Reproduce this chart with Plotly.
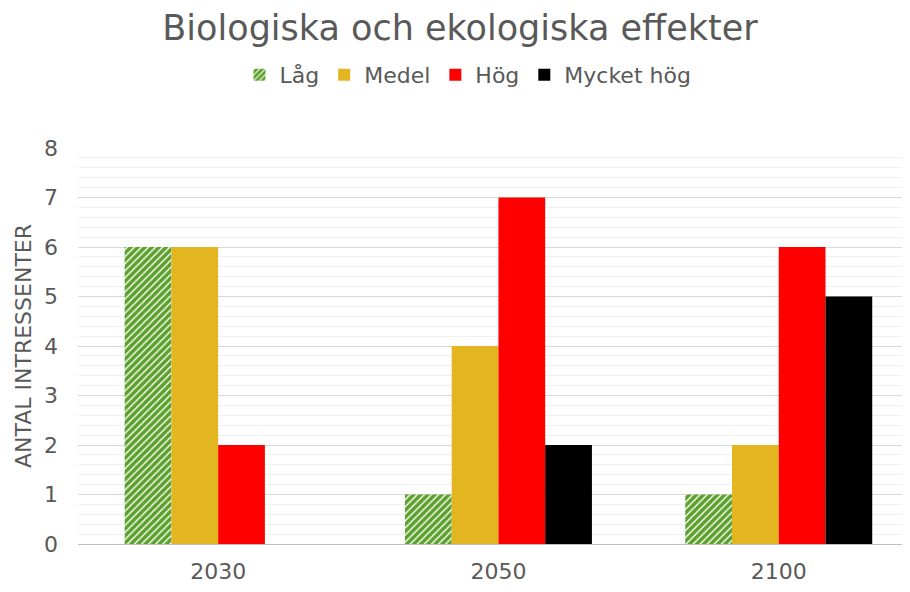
import plotly.graph_objects as go

categories = ["2030", "2050", "2100"]
series_names = ["Låg", "Medel", "Hög", "Mycket hög"]
lag = [6, 1, 1]
medel = [6, 4, 2]
hog = [2, 7, 6]
mycket_hog = [0, 2, 5]
y_ticks = [0, 1, 2, 3, 4, 5, 6, 7, 8]

colors = ["#5DA12D", "#E3B521", "#FF0000", "#000000"]
values = [lag, medel, hog, mycket_hog]

FONT = "DejaVu Sans"
GRAY = "#595959"
OFF = 8  # page body offset

fig = go.Figure()
for i, (name, vals) in enumerate(zip(series_names, values)):
    marker = dict(color=colors[i], line=dict(width=0))
    if i == 0:
        marker = dict(color=colors[i],
                      pattern=dict(shape="/", fgcolor="white", bgcolor=colors[i],
                                   size=5, solidity=0.28, fillmode="replace"),
                      line=dict(width=0))
    fig.add_trace(go.Bar(x=categories, y=vals, name=name, marker=marker))

H = 576
W = 894
fig.update_layout(
    width=W, height=H,
    barmode="group", bargap=0.333, bargroupgap=0,
    plot_bgcolor="white", paper_bgcolor="white",
    margin=dict(l=78 - OFF, r=0, t=148 - OFF, b=H - (548 - OFF)),
    title=dict(text="Biologiska och ekologiska effekter", x=(460 - OFF) / W, xanchor="center",
               xref="container",
               y=1 - (28 - OFF) / H, yanchor="middle",
               font=dict(family=FONT, size=35, color=GRAY)),
    legend=dict(orientation="h", x=(468 - OFF) / W, xanchor="center", xref="container",
                y=1 - (75 - OFF) / H,
                yanchor="middle", yref="container",
                font=dict(family=FONT, size=22, color=GRAY),
                traceorder="normal", itemsizing="constant"),
    font=dict(family=FONT, color=GRAY),
)
fig.update_xaxes(range=[-0.5, -0.5 + (W - 70) / 280.3], showgrid=False, showline=True,
                 linecolor="#bfbfbf", linewidth=1, ticks="",
                 ticklabelstandoff=8,
                 tickfont=dict(family=FONT, size=22, color=GRAY))
fig.update_yaxes(range=[0, 8], tickvals=y_ticks, showgrid=True,
                 gridcolor="#d9d9d9", gridwidth=1, zeroline=False,
                 minor=dict(dtick=0.2, showgrid=True, gridcolor="#f0f0f0", gridwidth=1),
                 tickfont=dict(family=FONT, size=22, color=GRAY),
                 ticklabelstandoff=19,
                 title=dict(text="ANTAL INTRESSENTER",
                            font=dict(family=FONT, size=22, color=GRAY), standoff=6))

fig.write_html("out.html")
